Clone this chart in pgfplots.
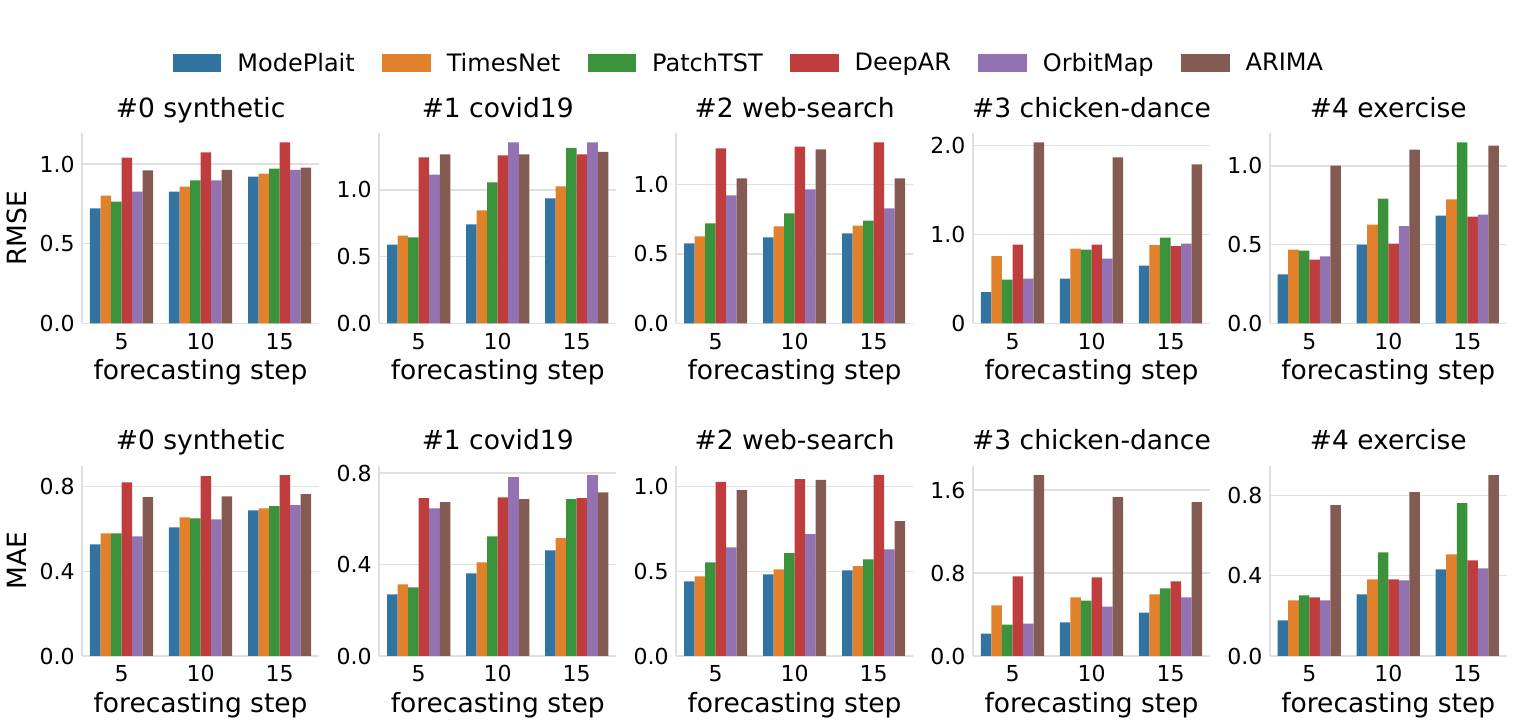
\documentclass[border=0pt]{standalone}
\usepackage{fontspec}
\setmainfont{DejaVu Sans}
\usepackage{pgfplots}
\usepackage{pgfplotstable}
\pgfplotsset{compat=1.18}

\definecolor{cMP}{HTML}{3274A1}
\definecolor{cTN}{HTML}{E1812C}
\definecolor{cPT}{HTML}{3A923A}
\definecolor{cDA}{HTML}{C03D3E}
\definecolor{cOM}{HTML}{9372B2}
\definecolor{cAR}{HTML}{845B53}
\definecolor{gridc}{HTML}{E0E0E0}

\newcommand\ticksize{\fontsize{22}{22}\selectfont}
\newcommand\labsize{\fontsize{26.5}{26.5}\selectfont}
\newcommand\legsize{\fontsize{24}{24}\selectfont}

% RMSE tables
\pgfplotstableread{
x MP TN PT DA OM AR
0 0.722 0.801 0.764 1.040 0.826 0.960
1 0.826 0.858 0.897 1.073 0.897 0.964
2 0.921 0.939 0.971 1.136 0.964 0.977
}\rA
\pgfplotstableread{
x MP TN PT DA OM AR
0 0.590 0.657 0.643 1.243 1.113 1.265
1 0.740 0.845 1.055 1.258 1.355 1.265
2 0.935 1.025 1.313 1.265 1.355 1.283
}\rB
\pgfplotstableread{
x MP TN PT DA OM AR
0 0.575 0.625 0.719 1.260 0.921 1.043
1 0.618 0.697 0.791 1.272 0.964 1.252
2 0.647 0.704 0.740 1.303 0.827 1.043
}\rC
\pgfplotstableread{
x MP TN PT DA OM AR
0 0.350 0.756 0.492 0.887 0.504 2.038
1 0.504 0.842 0.831 0.887 0.729 1.868
2 0.650 0.880 0.966 0.868 0.898 1.789
}\rD
\pgfplotstableread{
x MP TN PT DA OM AR
0 0.311 0.468 0.462 0.405 0.426 1.002
1 0.500 0.627 0.792 0.506 0.617 1.104
2 0.684 0.788 1.150 0.678 0.691 1.129
}\rE
% MAE tables
\pgfplotstableread{
x MP TN PT DA OM AR
0 0.527 0.579 0.579 0.820 0.565 0.750
1 0.607 0.655 0.650 0.849 0.645 0.754
2 0.688 0.697 0.707 0.854 0.712 0.764
}\mA
\pgfplotstableread{
x MP TN PT DA OM AR
0 0.269 0.313 0.300 0.690 0.646 0.673
1 0.361 0.409 0.523 0.694 0.782 0.686
2 0.462 0.515 0.686 0.690 0.791 0.716
}\mB
\pgfplotstableread{
x MP TN PT DA OM AR
0 0.441 0.470 0.553 1.028 0.642 0.980
1 0.482 0.512 0.607 1.045 0.719 1.040
2 0.506 0.530 0.571 1.069 0.630 0.796
}\mC
\pgfplotstableread{
x MP TN PT DA OM AR
0 0.216 0.487 0.303 0.768 0.313 1.745
1 0.323 0.565 0.535 0.758 0.477 1.532
2 0.419 0.594 0.652 0.719 0.565 1.484
}\mD
\pgfplotstableread{
x MP TN PT DA OM AR
0 0.177 0.277 0.302 0.292 0.277 0.752
1 0.307 0.382 0.517 0.382 0.377 0.817
2 0.432 0.507 0.762 0.477 0.437 0.902
}\mE

\newcommand\sixbars[1]{%
  \addplot[fill=cMP,draw=none] table[x=x,y=MP]{#1};
  \addplot[fill=cTN,draw=none] table[x=x,y=TN]{#1};
  \addplot[fill=cPT,draw=none] table[x=x,y=PT]{#1};
  \addplot[fill=cDA,draw=none] table[x=x,y=DA]{#1};
  \addplot[fill=cOM,draw=none] table[x=x,y=OM]{#1};
  \addplot[fill=cAR,draw=none] table[x=x,y=AR]{#1};
}

\pgfplotsset{
  panel/.style={
    scale only axis, width=237pt, height=190pt,
    anchor=south west,
    ybar=0pt, bar width=0.133333,
    xmin=-0.5, xmax=2.5, xtick={0,1,2}, xticklabels={5,10,15},
    ymin=0,
    axis x line*=bottom, axis y line*=left,
    axis line style={draw=gridc, line width=1.5pt, -},
    major tick length=0pt,
    ymajorgrids, grid style={draw=gridc, line width=1.5pt},
    tick label style={font=\ticksize, text=black},
    x tick label style={anchor=base, yshift=-26pt},
    y tick label style={anchor=east, xshift=-4pt},
    title style={font=\labsize, at={(axis description cs:0.5,1)}, anchor=base, yshift=10pt},
    xlabel={forecasting step},
    xlabel style={font=\labsize, at={(axis description cs:0.5,0)}, anchor=base, yshift=-56.7pt},
    ylabel style={font=\labsize, at={(axis description cs:-0.274,0.5)}, anchor=center},
  }
}

\begin{document}
\begin{tikzpicture}
\useasboundingbox (0pt,0pt) rectangle (1521pt,722pt);

% ---------- RMSE row ----------
\begin{axis}[panel, at={(82.1pt,398.7pt)}, title={\#0 synthetic}, ylabel={RMSE},
  ymax=1.193, ytick={0,0.5,1}, yticklabels={0.0,0.5,1.0},
  legend columns=6,
  legend image code/.code={\fill[#1] (0pt,-9pt) rectangle (48.5pt,9pt);},
  legend style={draw=none, fill=none, font=\legsize, inner sep=0pt, outer sep=0pt,
    at={(axis description cs:0.3835,1.37)}, anchor=west,
    /tikz/every odd column/.append style={column sep=14pt},
    /tikz/every even column/.append style={column sep=25.5pt}},
  ]
\sixbars{\rA}
\legend{ModePlait,TimesNet,PatchTST,DeepAR,OrbitMap,ARIMA}
\end{axis}

\begin{axis}[panel, at={(379.2pt,398.7pt)}, title={\#1 covid19},
  ymax=1.423, ytick={0,0.5,1}, yticklabels={0.0,0.5,1.0}]
\sixbars{\rB}
\end{axis}

\begin{axis}[panel, at={(676.1pt,398.7pt)}, title={\#2 web-search},
  ymax=1.368, ytick={0,0.5,1}, yticklabels={0.0,0.5,1.0}]
\sixbars{\rC}
\end{axis}

\begin{axis}[panel, at={(973.0pt,398.7pt)}, title={\#3 chicken-dance},
  ymax=2.140, ytick={0,1,2}, yticklabels={0,1.0,2.0}]
\sixbars{\rD}
\end{axis}

\begin{axis}[panel, at={(1269.8pt,398.7pt)}, title={\#4 exercise},
  ymax=1.2075, ytick={0,0.5,1}, yticklabels={0.0,0.5,1.0}]
\sixbars{\rE}
\end{axis}

% ---------- MAE row ----------
\begin{axis}[panel, at={(82.1pt,66pt)}, title={\#0 synthetic}, ylabel={MAE},
  ymax=0.897, ytick={0,0.4,0.8}, yticklabels={0.0,0.4,0.8}]
\sixbars{\mA}
\end{axis}

\begin{axis}[panel, at={(379.2pt,66pt)}, title={\#1 covid19},
  ymax=0.831, ytick={0,0.4,0.8}, yticklabels={0.0,0.4,0.8}]
\sixbars{\mB}
\end{axis}

\begin{axis}[panel, at={(676.1pt,66pt)}, title={\#2 web-search},
  ymax=1.122, ytick={0,0.5,1}, yticklabels={0.0,0.5,1.0}]
\sixbars{\mC}
\end{axis}

\begin{axis}[panel, at={(973.0pt,66pt)}, title={\#3 chicken-dance},
  ymax=1.832, ytick={0,0.8,1.6}, yticklabels={0.0,0.8,1.6}]
\sixbars{\mD}
\end{axis}

\begin{axis}[panel, at={(1269.8pt,66pt)}, title={\#4 exercise},
  ymax=0.947, ytick={0,0.4,0.8}, yticklabels={0.0,0.4,0.8}]
\sixbars{\mE}
\end{axis}
\end{tikzpicture}
\end{document}
